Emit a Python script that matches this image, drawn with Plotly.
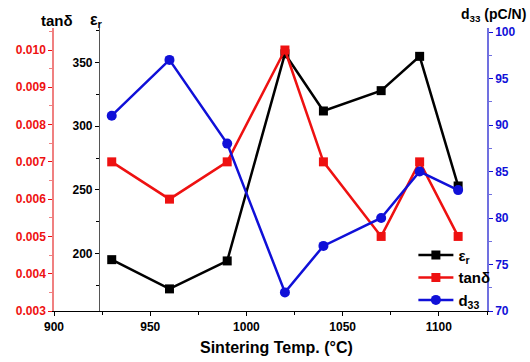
import plotly.graph_objects as go

temps = [930, 960, 990, 1020, 1040, 1070, 1090, 1110]
eps_r = [195, 172, 194, 357, 312, 328, 355, 253]
tan_d = [0.007, 0.006, 0.007, 0.010, 0.007, 0.005, 0.007, 0.005]
d33 = [91, 97, 88, 72, 77, 80, 85, 83]

x_ticks = [900, 950, 1000, 1050, 1100]
eps_ticks = [200, 250, 300, 350]
tan_ticks = [0.003, 0.004, 0.005, 0.006, 0.007, 0.008, 0.009, 0.010]
d33_ticks = [70, 75, 80, 85, 90, 95, 100]

RED = "#ee1111"
BLUE = "#1010d8"
FONT = "Liberation Sans"

fig = go.Figure()
fig.add_trace(go.Scatter(x=temps, y=eps_r, name="ε<sub>r</sub>", yaxis="y",
                         mode="lines+markers", line=dict(color="black", width=2.5),
                         marker=dict(symbol="square", size=9, color="black")))
fig.add_trace(go.Scatter(x=temps, y=tan_d, name="tanδ", yaxis="y2",
                         mode="lines+markers", line=dict(color=RED, width=2.5),
                         marker=dict(symbol="square", size=9, color=RED)))
fig.add_trace(go.Scatter(x=temps, y=d33, name="d<sub>33</sub>", yaxis="y3",
                         mode="lines+markers", line=dict(color=BLUE, width=2.5),
                         marker=dict(symbol="circle", size=10, color=BLUE)))

fig.update_layout(
    width=530, height=362,
    margin=dict(l=54, r=43, t=28, b=51),
    paper_bgcolor="white", plot_bgcolor="white",
    showlegend=True,
    legend=dict(x=0.83, xanchor="left", y=-0.02, yanchor="bottom",
                bgcolor="rgba(0,0,0,0)", font=dict(family=FONT, size=15, color="black", weight="bold"),
                itemwidth=35, tracegroupgap=0),
    xaxis=dict(range=[900, 1125], tickvals=x_ticks, showgrid=False, zeroline=False,
               showline=True, linecolor="black", linewidth=1.2,
               ticks="outside", ticklen=4, tickcolor="black",
               minor=dict(dtick=25, tick0=900, ticks="outside", ticklen=3, tickcolor="black"),
               tickfont=dict(family=FONT, size=12, color="black", weight="bold"),
               anchor="y"),
    yaxis=dict(range=[154.6, 377.3], tickvals=eps_ticks, showgrid=False, zeroline=False,
               anchor="free", position=0.104, side="left",
               showline=True, linecolor="#555555", linewidth=1.2,
               ticks="outside", ticklen=4, tickcolor="black",
               minor=dict(dtick=25, tick0=150, ticks="outside", ticklen=3, tickcolor="black"),
               tickfont=dict(family=FONT, size=12, color="black", weight="bold")),
    yaxis2=dict(range=[0.003, 0.01059], tickvals=tan_ticks, tickformat=".3f",
                overlaying="y", anchor="x", side="left", showgrid=False, zeroline=False,
                showline=True, linecolor="#f08080", linewidth=1.5,
                ticks="outside", ticklen=4, tickcolor=RED,
                minor=dict(dtick=0.0005, tick0=0.003, ticks="outside", ticklen=3, tickcolor="#f08080"),
                tickfont=dict(family=FONT, size=12, color=RED, weight="bold")),
    yaxis3=dict(range=[70, 100.43], tickvals=d33_ticks,
                overlaying="y", anchor="x", side="right", showgrid=False, zeroline=False,
                showline=True, linecolor="#7070e0", linewidth=1.5,
                ticks="outside", ticklen=4, tickcolor=BLUE,
                minor=dict(dtick=2.5, tick0=70, ticks="outside", ticklen=3, tickcolor="#7070e0"),
                tickfont=dict(family=FONT, size=12, color=BLUE, weight="bold")),
)

title_font = dict(family=FONT, size=14, color="black", weight="bold")
fig.add_annotation(text="tanδ", xref="paper", yref="paper", x=0.007, y=1.025,
                   xanchor="center", yanchor="middle", showarrow=False,
                   font=dict(family=FONT, size=15, color="black", weight="bold"))
fig.add_annotation(text="ε<sub>r</sub>", xref="paper", yref="paper", x=0.098, y=1.028,
                   xanchor="center", yanchor="middle", showarrow=False,
                   font=dict(family=FONT, size=16, color="black", weight="bold"))
fig.add_annotation(text="d<sub>33</sub> (pC/N)", xref="paper", yref="paper", x=1.015, y=1.045,
                   xanchor="center", yanchor="middle", showarrow=False, font=title_font)
fig.add_annotation(text="Sintering Temp. (°C)", xref="paper", yref="paper", x=0.513, y=-0.13,
                   xanchor="center", yanchor="middle", showarrow=False,
                   font=dict(family=FONT, size=16, color="black", weight="bold"))

fig.write_html("out.html")
